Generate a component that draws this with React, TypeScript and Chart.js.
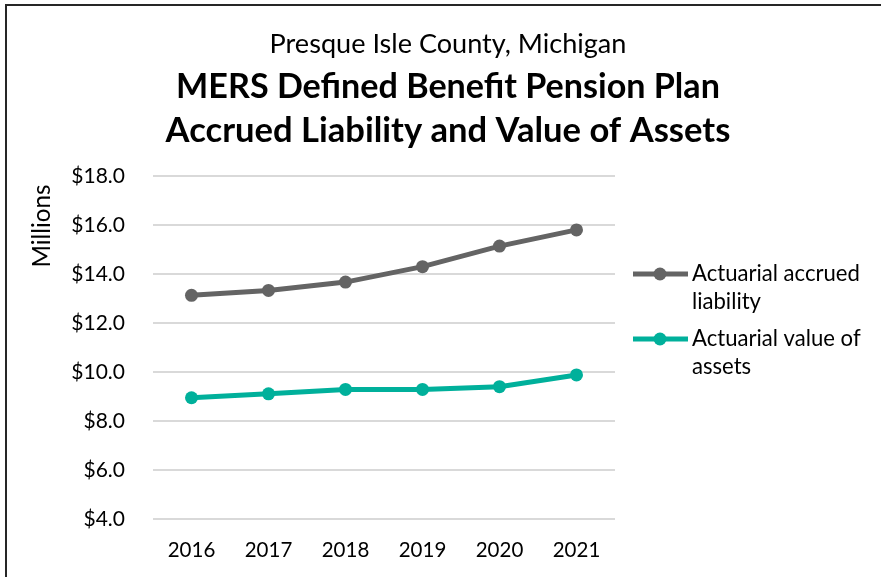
import React, { useEffect, useRef } from "react";
import { Chart, registerables } from "chart.js";

Chart.register(...registerables);

const years = ["2016", "2017", "2018", "2019", "2020", "2021"];
const accruedLiability = [13.13, 13.33, 13.67, 14.3, 15.14, 15.8];
const assetValue = [8.95, 9.11, 9.29, 9.29, 9.4, 9.88];
const seriesLabels = [
  ["Actuarial accrued", "liability"],
  ["Actuarial value of", "assets"],
];
const titleLines = [
  "Presque Isle County, Michigan",
  "MERS Defined Benefit Pension Plan",
  "Accrued Liability and Value of Assets",
];
const yAxisTitle = "Millions";
const yMin = 4;
const yMax = 18;
const yStep = 2;

const FONT = "Lato, 'Open Sans', sans-serif";
const GRAY = "#646464";
const TEAL = "#00B09B";

function fitSize(ctx: CanvasRenderingContext2D, text: string, weight: string, target: number) {
  ctx.font = `${weight} 100px ${FONT}`;
  const w = ctx.measureText(text).width;
  return (100 * target) / w;
}

const decorPlugin = {
  id: "decor",
  afterDraw(chart: any) {
    const ctx: CanvasRenderingContext2D = chart.ctx;
    ctx.save();
    // outer frame
    ctx.strokeStyle = "#262626";
    ctx.lineWidth = 2;
    ctx.beginPath();
    ctx.moveTo(6, 700);
    ctx.lineTo(6, 5);
    ctx.lineTo(1000, 5);
    ctx.stroke();

    // titles
    ctx.fillStyle = "#000";
    ctx.textAlign = "center";
    ctx.textBaseline = "alphabetic";
    const s1 = fitSize(ctx, titleLines[0], "normal", 357);
    ctx.font = `normal ${s1}px ${FONT}`;
    ctx.fillText(titleLines[0], 448, 53);
    const s2 = fitSize(ctx, titleLines[1], "bold", 544);
    ctx.font = `bold ${s2}px ${FONT}`;
    ctx.fillText(titleLines[1], 448, 98);
    const s3 = fitSize(ctx, titleLines[2], "bold", 565);
    ctx.font = `bold ${s3}px ${FONT}`;
    ctx.fillText(titleLines[2], 448, 142);

    // y axis title
    ctx.save();
    ctx.translate(42, 226);
    ctx.rotate(-Math.PI / 2);
    ctx.textAlign = "center";
    ctx.textBaseline = "middle";
    const ms = fitSize(ctx, yAxisTitle, "normal", 83);
    ctx.font = `normal ${ms}px ${FONT}`;
    ctx.fillText(yAxisTitle, 0, 0);
    ctx.restore();

    // legend
    const ls = fitSize(ctx, seriesLabels[0][0], "normal", 168);
    const rowY = [274, 339];
    chart.data.datasets.forEach((ds: any, i: number) => {
      const y = rowY[i];
      ctx.strokeStyle = ds.borderColor;
      ctx.lineWidth = ds.borderWidth;
      ctx.beginPath();
      ctx.moveTo(633, y);
      ctx.lineTo(688, y);
      ctx.stroke();
      ctx.fillStyle = ds.backgroundColor;
      ctx.beginPath();
      ctx.arc(660, y, ds.pointRadius, 0, Math.PI * 2);
      ctx.fill();
      ctx.fillStyle = "#000";
      ctx.textAlign = "left";
      ctx.textBaseline = "middle";
      ctx.font = `normal ${ls}px ${FONT}`;
      seriesLabels[i].forEach((line, j) => {
        ctx.fillText(line, 692, y + j * 28);
      });
    });
    ctx.restore();
  },
};

export default function App() {
  const ref = useRef<HTMLCanvasElement | null>(null);

  useEffect(() => {
    if (!ref.current) return;
    const chart = new Chart(ref.current, {
      type: "line",
      data: {
        labels: years,
        datasets: [
          {
            label: seriesLabels[0].join(" "),
            data: accruedLiability,
            borderColor: GRAY,
            backgroundColor: GRAY,
            borderWidth: 5,
            pointRadius: 6.5,
            pointBorderWidth: 0,
            tension: 0,
          },
          {
            label: seriesLabels[1].join(" "),
            data: assetValue,
            borderColor: TEAL,
            backgroundColor: TEAL,
            borderWidth: 5,
            pointRadius: 6.5,
            pointBorderWidth: 0,
            tension: 0,
          },
        ],
      },
      options: {
        responsive: false,
        animation: false,
        devicePixelRatio: 1,
        layout: { padding: { left: 0, right: 266, top: 176, bottom: 0 } },
        plugins: {
          legend: { display: false },
          title: { display: false },
          tooltip: { enabled: false },
        },
        scales: {
          x: {
            offset: true,
            grid: { display: false, drawTicks: false },
            border: { display: false },
            ticks: {
              color: "#000",
              font: { family: FONT, size: 20.5 },
              padding: 19,
              maxRotation: 0,
            },
            afterFit: (scale: any) => {
              scale.height = 58;
            },
          },
          y: {
            min: yMin,
            max: yMax,
            grid: { color: "#D9D9D9", lineWidth: 2, drawTicks: false },
            border: { display: false },
            ticks: {
              stepSize: yStep,
              color: "#000",
              font: { family: FONT, size: 21 },
              padding: 28,
              callback: (v: any) => "$" + Number(v).toFixed(1),
            },
            afterFit: (scale: any) => {
              scale.width = 153;
            },
          },
        },
      },
      plugins: [decorPlugin],
    });
    return () => chart.destroy();
  }, []);

  return (
    <div style={{ position: "fixed", left: 0, top: 0, width: 881, height: 577, background: "#fff" }}>
      <canvas ref={ref} width={881} height={577} style={{ display: "block" }} />
    </div>
  );
}
